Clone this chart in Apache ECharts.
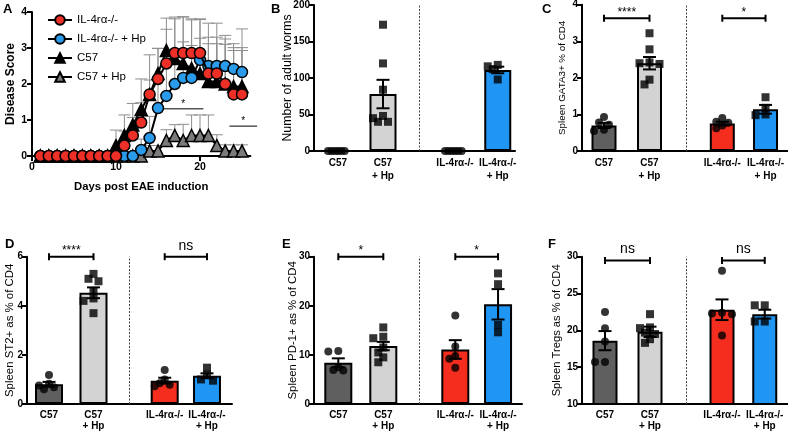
<!DOCTYPE html>
<html><head><meta charset="utf-8">
<script src="https://cdn.jsdelivr.net/npm/echarts@6/dist/echarts.min.js"></script>
<style>html,body{margin:0;padding:0;background:#fff}#c{width:788px;height:433px}</style>
</head><body><div id="c"></div>
<script>
const FONT = "'Liberation Sans', Arial, Helvetica, sans-serif";

// ---------- Panel A: disease score ----------
const days = [1,2,3,4,5,6,7,8,9,10,11,12,13,14,15,16,17,18,19,20,21,22,23,24,25];
const il4   = [0,0,0,0,0,0,0,0,0,0,0.29,0.57,0.93,1.71,2.14,2.57,2.86,2.86,2.86,2.86,2.29,2.29,2.0,1.71,1.71];
const il4Hp = [0,0,0,0,0,0,0,0,0,0,0,0,0.17,0.5,1.33,1.67,2.0,2.17,2.17,2.67,2.5,2.5,2.5,2.42,2.33];
const c57   = [0,0,0,0,0,0,0,0,0,0.29,0.57,0.86,1.29,1.71,2.29,2.93,2.71,2.57,2.43,2.29,2.07,2.07,2.0,1.93,1.93];
const c57Hp = [0,0,0,0,0,0,0,0,0,0,0,0,0,0.14,0.14,0.43,0.57,0.43,0.57,0.57,0.57,0.29,0.14,0.14,0.14];
const il4Err   = [0,0,0,0,0,0,0,0,0,0,0.4,0.5,0.55,0.4,0.85,0.95,0.95,1.0,0.95,0.95,1.4,1.4,1.35,1.3,1.3];
const il4HpErr = [0,0,0,0,0,0,0,0,0,0,0,0,0.3,0.6,0.8,0.85,0.9,1.0,0.9,0.6,0.8,0.8,0.75,0.7,1.2];
const c57Err   = [0,0,0,0,0,0,0,0,0,0.43,0.57,0.6,0.85,1.1,0.7,0.9,1.15,1.3,1.35,1.5,1.05,1.05,1.1,1.0,1.0];
const c57HpErr = [0,0,0,0,0,0,0,0,0,0,0,0,0,0.15,0.15,0.3,0.3,0.45,0.57,0.57,0.57,0.3,0.17,0.17,0.17];
const namesA = ['IL-4rα-/-', 'IL-4rα-/- + Hp', 'C57', 'C57 + Hp'];
const sigAFrom = [15.6, 23.5];
const sigATo = [20.4, 26.8];
const sigAY = [1.31, 0.83];
const sigALabel = ['*', '*'];

// ---------- Bar panels ----------
const groupLabels = ['C57', 'C57\n+ Hp', 'IL-4rα-/-', 'IL-4rα-/-\n+ Hp'];

// B: adult worms
const wormMeans = [0, 78, 0, 111];
const wormSem = [0, 19.5, 0, 4.5];
const wormC57 = [0, 0, 0, 0, 0, 0];
const wormC57Hp = [173, 120, 84, 48, 45, 40, 40];
const wormIl4 = [0, 0, 0, 0, 0, 0];
const wormIl4Hp = [118, 116, 112, 98];

// C: GATA3+
const gataMeans = [0.7, 2.4, 0.75, 1.14];
const gataSem = [0.07, 0.17, 0.05, 0.12];
const gataC57 = [0.93, 0.78, 0.72, 0.58, 0.55];
const gataC57Hp = [3.22, 2.78, 2.42, 2.4, 2.38, 1.95, 1.82];
const gataIl4 = [0.9, 0.8, 0.77, 0.7, 0.62];
const gataIl4Hp = [1.47, 1.18, 1.0, 0.98];
const gataSigY = [3.63, 3.63];
const gataSigLabel = ['****', '*'];

// D: ST2+
const st2Means = [0.8, 4.53, 0.95, 1.15];
const st2Sem = [0.1, 0.22, 0.12, 0.1];
const st2C57 = [1.18, 0.82, 0.75, 0.68, 0.6];
const st2C57Hp = [5.3, 5.1, 5.0, 4.6, 4.3, 4.2, 3.7];
const st2Il4 = [1.38, 1.0, 0.85, 0.78, 0.72];
const st2Il4Hp = [1.48, 1.2, 1.0, 0.95];
const st2SigY = [6, 6];
const st2SigLabel = ['****', 'ns'];

// E: PD-1+
const pd1Means = [8.4, 11.8, 11.1, 20.3];
const pd1Sem = [0.9, 0.85, 1.9, 3.1];
const pd1C57 = [10.8, 10.7, 7.5, 6.9, 6.8];
const pd1C57Hp = [15.6, 13.7, 13.4, 11.5, 10.5, 9.5, 8.5];
const pd1Il4 = [18.0, 11.7, 9.8, 9.2, 7.4];
const pd1Il4Hp = [26.6, 24.4, 16.1, 14.6];
const pd1SigY = [30, 30];
const pd1SigLabel = ['*', '*'];

// F: Tregs
const tregMeans = [18.6, 19.8, 22.8, 22.2];
const tregSem = [1.3, 0.7, 1.4, 0.6];
const tregC57 = [22.5, 20.3, 18.5, 15.7, 15.7];
const tregC57Hp = [22.2, 20.4, 20.3, 19.7, 19.5, 18.8, 18.3];
const tregIl4 = [28.1, 22.4, 22.3, 22.2, 19.3];
const tregIl4Hp = [23.4, 23.4, 21.2, 21.2];
const tregSigY = [29.5, 29.5];
const tregSigLabel = ['ns', 'ns'];

// ---------- layout / style ----------
const groupPos = [0, 1, 2.6, 3.55];
const dividerPos = 1.8;
const barColors = ['#5f5f5f', '#d3d3d3', '#f42d1f', '#1f96f3'];
const ptSymbols = ['circle', 'rect', 'circle', 'rect'];

const panels = [
  {grid:{left:314, top:5, width:201, height:146}, c0:338, unit:45, y:[0,200,50], name:'Number of adult worms', nameGap:20, nameSize:12.3, barW:27, lh:13,
   means:wormMeans, sem:wormSem, pts:[wormC57, wormC57Hp, wormIl4, wormIl4Hp], sigY:null, sigLabel:null},
  {grid:{left:582, top:4.7, width:206, height:146.3}, c0:604, unit:45.5, y:[0,4,1], name:'Spleen GATA3+ % of CD4', nameGap:15, nameSize:9.8, barW:25, lh:13,
   means:gataMeans, sem:gataSem, pts:[gataC57, gataC57Hp, gataIl4, gataIl4Hp], sigY:gataSigY, sigLabel:gataSigLabel},
  {grid:{left:27, top:256.7, width:205, height:147.3}, c0:49, unit:44.5, y:[0,6,2], name:'Spleen ST2+ as % of CD4', nameGap:12, nameSize:11.4, barW:28, lh:11,
   means:st2Means, sem:st2Sem, pts:[st2C57, st2C57Hp, st2Il4, st2Il4Hp], sigY:st2SigY, sigLabel:st2SigLabel},
  {grid:{left:314, top:256.7, width:208, height:147.3}, c0:338.3, unit:45, y:[0,30,10], name:'Spleen PD-1+ as % of CD4', nameGap:16, nameSize:11.4, barW:28, lh:11,
   means:pd1Means, sem:pd1Sem, pts:[pd1C57, pd1C57Hp, pd1Il4, pd1Il4Hp], sigY:pd1SigY, sigLabel:pd1SigLabel},
  {grid:{left:582, top:256.7, width:206, height:147.3}, c0:605, unit:45, y:[10,30,5], name:'Spleen Tregs as % of CD4', nameGap:20, nameSize:11.2, barW:25, lh:11,
   means:tregMeans, sem:tregSem, pts:[tregC57, tregC57Hp, tregIl4, tregIl4Hp], sigY:tregSigY, sigLabel:tregSigLabel}
];

function swarm(values, pxPerUnit) {
  const step = 6, minD = 6.5, maxHalf = 10;
  const order = values.map((v, i) => i).sort((a, b) => values[b] - values[a]);
  const placed = [];
  const offs = new Array(values.length).fill(0);
  for (const i of order) {
    const y = values[i] * pxPerUnit;
    for (let k = 0; k < 40; k++) {
      const o = (k % 2 === 1 ? -1 : 1) * Math.ceil(k / 2) * step;
      if (placed.every(p => Math.hypot(p[0] - o, p[1] - y) >= minD)) {
        offs[i] = o; placed.push([o, y]); break;
      }
    }
  }
  const m = Math.max(...offs.map(Math.abs));
  if (m > maxHalf) for (let i = 0; i < offs.length; i++) offs[i] *= maxHalf / m;
  return offs;
}

function errRender(capHalf, both, color, width) {
  return function (params, api) {
    const x = api.value(0), m = api.value(1), s = api.value(2);
    if (!s) return {type:'group', children:[]};
    const top = api.coord([x, m + s]);
    const bot = api.coord([x, both ? m - s : m]);
    const st = {stroke: color, lineWidth: width};
    const ch = [
      {type:'line', shape:{x1:top[0], y1:top[1], x2:bot[0], y2:bot[1]}, style:st},
      {type:'line', shape:{x1:top[0]-capHalf, y1:top[1], x2:top[0]+capHalf, y2:top[1]}, style:st}
    ];
    if (both) ch.push({type:'line', shape:{x1:bot[0]-capHalf, y1:bot[1], x2:bot[0]+capHalf, y2:bot[1]}, style:st});
    return {type:'group', children: ch};
  };
}

function sigRender(labels, capH, lw, fonts) {
  return function (params, api) {
    const a = api.coord([api.value(0), api.value(2)]);
    const b = api.coord([api.value(1), api.value(2)]);
    const lab = labels[params.dataIndex];
    const st = {stroke:'#000', lineWidth: lw};
    const ch = [{type:'line', shape:{x1:a[0], y1:a[1], x2:b[0], y2:b[1]}, style:st}];
    if (capH > 0) {
      ch.push({type:'line', shape:{x1:a[0], y1:a[1]-capH, x2:a[0], y2:a[1]+capH}, style:st});
      ch.push({type:'line', shape:{x1:b[0], y1:b[1]-capH, x2:b[0], y2:b[1]+capH}, style:st});
    }
    const isNs = lab === 'ns';
    ch.push({type:'text', style:{text: lab, x:(a[0]+b[0])/2, y: a[1] - (isNs ? 4 : 0), align:'center', verticalAlign:'bottom',
      font: isNs ? fonts.ns : fonts.star, fill:'#000'}});
    return {type:'group', children: ch};
  };
}

const grids = [], xAxes = [], yAxes = [], series = [];
const axisLineStyle = {color:'#000', width:2};
const tickLabel = {color:'#000', fontWeight:'bold', fontSize:10, fontFamily:FONT};

// Panel A
grids.push({left:32, top:12, width:218.4, height:144, containLabel:false, outerBoundsMode:'none'});
xAxes.push({gridIndex:0, type:'value', min:0, max:26, interval:10,
  axisLine:{onZero:false, lineStyle:axisLineStyle}, splitLine:{show:false},
  axisTick:{show:true, length:5, lineStyle:{width:2, color:'#000'}, customValues:[0,10,20]},
  axisLabel:Object.assign({customValues:[0,10,20], margin:6}, tickLabel, {fontSize:10.5}),
  name:'Days post EAE induction', nameLocation:'middle', nameGap:25, nameMoveOverlap:false,
  nameTextStyle:{color:'#000', fontWeight:'bold', fontSize:11.3, fontFamily:FONT}});
yAxes.push({gridIndex:0, type:'value', min:0, max:4, interval:1,
  axisLine:{show:true, onZero:false, lineStyle:axisLineStyle}, splitLine:{show:false},
  axisTick:{show:true, length:5, lineStyle:{width:2, color:'#000'}},
  axisLabel:Object.assign({margin:5}, tickLabel, {fontSize:10.5}),
  name:'Disease Score', nameLocation:'middle', nameGap:15, nameMoveOverlap:false,
  nameTextStyle:{color:'#000', fontWeight:'bold', fontSize:12, fontFamily:FONT}});

const aVals = [il4, il4Hp, c57, c57Hp];
const aErrs = [il4Err, il4HpErr, c57Err, c57HpErr];
const aFill = ['#ec2f27', '#2a9bea', '#000000', '#7b7b7b'];
const aSym = ['circle', 'circle', 'triangle', 'triangle'];
const aZ = [6, 5, 4, 3];
for (let s = 0; s < 4; s++) {
  series.push({type:'custom', xAxisIndex:0, yAxisIndex:0, z:1, silent:true,
    renderItem: errRender(6, false, '#8e8e8e', 1),
    data: days.map((d, i) => [d, aVals[s][i], aErrs[s][i]])});
}
for (let s = 0; s < 4; s++) {
  series.push({type:'line', name:namesA[s], xAxisIndex:0, yAxisIndex:0, z:aZ[s],
    symbol:aSym[s], symbolSize: aSym[s] === 'circle' ? 11 : 12, showSymbol:true,
    lineStyle:{color:'#000', width:2},
    itemStyle:{color:aFill[s], borderColor:'#000', borderWidth:1.5},
    data: days.map((d, i) => [d, aVals[s][i]])});
}
series.push({type:'custom', xAxisIndex:0, yAxisIndex:0, z:7, clip:false, silent:true,
  renderItem: sigRender(sigALabel, 0, 1, {star:'10px ' + FONT, ns:'13px ' + FONT}),
  data: sigAFrom.map((f, i) => [f, sigATo[i], sigAY[i]])});

// Bar panels
panels.forEach((p, k) => {
  const gi = k + 1;
  const g = p.grid;
  grids.push(Object.assign({containLabel:false, outerBoundsMode:'none'}, g));
  const xmin = (g.left - p.c0) / p.unit, xmax = (g.left + g.width - p.c0) / p.unit;
  xAxes.push({gridIndex:gi, type:'value', min:xmin, max:xmax,
    axisLine:{onZero:false, lineStyle:axisLineStyle}, splitLine:{show:false}, axisTick:{show:false},
    axisLabel:Object.assign({customValues:groupPos, margin:6, lineHeight:p.lh,
      formatter: v => { const i = groupPos.findIndex(q => Math.abs(q - v) < 1e-6); return i >= 0 ? groupLabels[i] : ''; }}, tickLabel)});
  yAxes.push({gridIndex:gi, type:'value', min:p.y[0], max:p.y[1], interval:p.y[2],
    axisLine:{show:true, onZero:false, lineStyle:axisLineStyle}, splitLine:{show:false},
    axisTick:{show:true, length:5, lineStyle:{width:2, color:'#000'}},
    axisLabel:Object.assign({margin:4}, tickLabel),
    name:p.name, nameLocation:'middle', nameGap:p.nameGap, nameMoveOverlap:false,
    nameTextStyle:{color:'#000', fontSize:p.nameSize, fontFamily:FONT}});
  series.push({type:'bar', xAxisIndex:gi, yAxisIndex:gi, barWidth:p.barW, z:2, silent:true,
    itemStyle:{borderColor:'#000', borderWidth:2},
    data: p.means.map((m, i) => ({value:[groupPos[i], m], itemStyle:{color:barColors[i]}})),
    markLine:{silent:true, symbol:'none', label:{show:false},
      lineStyle:{color:'#444', width:1, type:[2,1.5]},
      data:[{xAxis:dividerPos}]}});
  series.push({type:'custom', xAxisIndex:gi, yAxisIndex:gi, z:3, silent:true,
    renderItem: errRender(6.5, true, '#000', 2),
    data: p.means.map((m, i) => [groupPos[i], m, p.sem[i]])});
  const pxPerUnit = g.height / (p.y[1] - p.y[0]);
  p.pts.forEach((vals, gIdx) => {
    const offs = swarm(vals, pxPerUnit);
    series.push({type:'scatter', xAxisIndex:gi, yAxisIndex:gi, z:5, silent:true,
      symbol:ptSymbols[gIdx], symbolSize:8, itemStyle:{color:'#000'},
      data: vals.map((v, i) => [groupPos[gIdx] + offs[i] / p.unit, v])});
  });
  if (p.sigY) {
    series.push({type:'custom', xAxisIndex:gi, yAxisIndex:gi, z:6, clip:false, silent:true,
      renderItem: sigRender(p.sigLabel, 3.5, 2, {star:'12px ' + FONT, ns:'14px ' + FONT}),
      data: p.sigY.map((yv, i) => [groupPos[i*2], groupPos[i*2+1], yv])});
  }
});

const letters = [['A',3,2.5],['B',271,2.5],['C',542,2.5],['D',5,237.5],['E',282,238],['F',548,238]];
const chart = echarts.init(document.getElementById('c'), null, {renderer:'canvas'});
chart.setOption({
  backgroundColor:'#ffffff',
  animation:false,
  textStyle:{fontFamily:FONT},
  grid: grids, xAxis: xAxes, yAxis: yAxes, series: series,
  legend:{data:namesA, orient:'vertical', left:42, top:9, itemWidth:24, itemHeight:12, itemGap:7,
    textStyle:{color:'#000', fontSize:11.5, fontFamily:FONT}, selectedMode:false},
  graphic: letters.map(l => ({type:'text', left:l[1], top:l[2], style:{text:l[0], font:'bold 13px ' + FONT, fill:'#000'}}))
});
</script></body></html>
